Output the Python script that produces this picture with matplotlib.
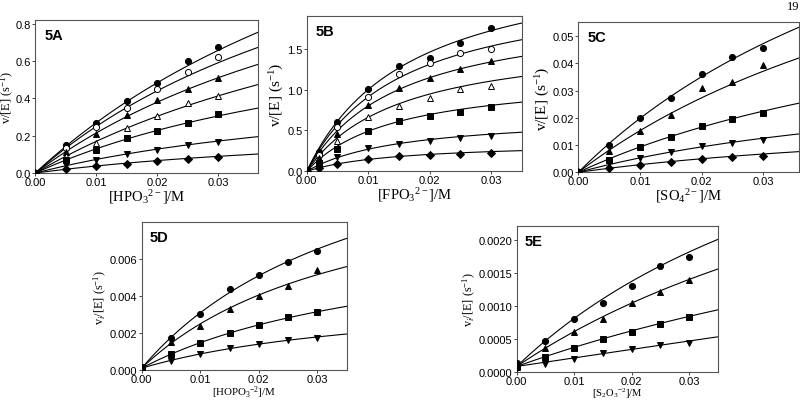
import numpy as np
import matplotlib
matplotlib.use("Agg")
import matplotlib.pyplot as plt
from matplotlib.ticker import FormatStrFormatter

plt.rcParams['font.family'] = 'Liberation Serif'
plt.rcParams['mathtext.fontset'] = 'custom'
plt.rcParams['mathtext.rm'] = 'Liberation Serif'
plt.rcParams['mathtext.it'] = 'Liberation Serif:italic'

# ---- data ----
# marker order: filled circle, open circle, filled up-tri, open up-tri,
# filled square, filled down-tri, filled diamond
conc_A = [0, 0.005, 0.01, 0.015, 0.02, 0.025, 0.03]
rates_A = [
    [0, 0.152, 0.268, 0.384, 0.480, 0.598, 0.673],
    [0, 0.135, 0.248, 0.348, 0.448, 0.541, 0.620],
    [0, 0.115, 0.211, 0.309, 0.389, 0.448, 0.509],
    [0, 0.090, 0.161, 0.243, 0.304, 0.373, 0.414],
    [0, 0.070, 0.125, 0.188, 0.223, 0.268, 0.314],
    [0, 0.042, 0.071, 0.100, 0.125, 0.150, 0.168],
    [0, 0.020, 0.036, 0.050, 0.063, 0.077, 0.088],
]
curve_A_010 = [0.270, 0.250, 0.215, 0.170, 0.130, 0.073, 0.038]
curve_A_end = [0.754, 0.673, 0.582, 0.474, 0.348, 0.195, 0.102]

conc_B = [0, 0.002, 0.005, 0.01, 0.015, 0.02, 0.025, 0.03]
rates_B = [
    [0, 0.233, 0.609, 1.001, 1.283, 1.389, 1.573, 1.757],
    [0, 0.195, 0.540, 0.907, 1.193, 1.324, 1.451, 1.500],
    [0, 0.160, 0.458, 0.813, 1.018, 1.144, 1.246, 1.349],
    [0, 0.130, 0.376, 0.670, 0.805, 0.899, 1.009, 1.042],
    [0, 0.100, 0.274, 0.490, 0.613, 0.674, 0.723, 0.785],
    [0, 0.070, 0.176, 0.282, 0.335, 0.376, 0.409, 0.437],
    [0, 0.040, 0.094, 0.151, 0.192, 0.204, 0.213, 0.225],
]
curve_B_010 = [1.000, 0.910, 0.800, 0.660, 0.490, 0.270, 0.145]
curve_B_end = [1.814, 1.610, 1.406, 1.160, 0.846, 0.478, 0.253]

# 5C: filled circle, up-tri, square, down-tri, diamond
conc_C = [0, 0.005, 0.01, 0.015, 0.02, 0.025, 0.03]
rates_C = [
    [0, 0.0100, 0.0200, 0.0273, 0.0361, 0.0423, 0.0456],
    [0, 0.0078, 0.0151, 0.0212, 0.0309, 0.0333, 0.0395],
    [0, 0.0047, 0.0092, 0.0129, 0.0169, 0.0194, 0.0217],
    [0, 0.0033, 0.0051, 0.0076, 0.0096, 0.0108, 0.0120],
    [0, 0.0014, 0.0027, 0.0037, 0.0048, 0.0056, 0.0061],
]
curve_C_010 = [0.0198, 0.0153, 0.0093, 0.0053, 0.0028]
curve_C_end = [0.0533, 0.0420, 0.0254, 0.0141, 0.0076]

# 5D and 5E: filled circle, up-tri, square, down-tri
conc_D = [0, 0.005, 0.01, 0.015, 0.02, 0.025, 0.03]
rates_D = [
    [0.00018, 0.00175, 0.00305, 0.00440, 0.00515, 0.00587, 0.00642],
    [0.00015, 0.00150, 0.00236, 0.00333, 0.00400, 0.00455, 0.00540],
    [0.00012, 0.00087, 0.00145, 0.00200, 0.00245, 0.00287, 0.00315],
    [0.00010, 0.00051, 0.00087, 0.00118, 0.00142, 0.00160, 0.00176],
]
curve_D_010 = [0.00310, 0.00250, 0.00148, 0.00087]
curve_D_end = [0.00713, 0.00560, 0.00345, 0.00195]

conc_E = [0, 0.005, 0.01, 0.015, 0.02, 0.025, 0.03]
rates_E = [
    [0.00013, 0.00046, 0.00080, 0.00104, 0.00131, 0.00161, 0.00175],
    [0.00010, 0.00036, 0.00060, 0.00080, 0.00104, 0.00121, 0.00139],
    [0.00007, 0.00022, 0.00036, 0.00049, 0.00061, 0.00073, 0.00083],
    [0.00005, 0.00012, 0.00020, 0.00028, 0.00034, 0.00040, 0.00044],
]
curve_E_010 = [0.00081, 0.00061, 0.00037, 0.00021]
curve_E_end = [0.00201, 0.00156, 0.00094, 0.00053]

markers7 = [('o', 'k'), ('o', 'w'), ('^', 'k'), ('^', 'w'),
            ('s', 'k'), ('v', 'k'), ('D', 'k')]
markers5 = [('o', 'k'), ('^', 'k'), ('s', 'k'), ('v', 'k'), ('D', 'k')]
markers4 = [('o', 'k'), ('^', 'k'), ('s', 'k'), ('v', 'k')]


def saturation_curve(s, y1, s_end, y_end, c, s1=0.01):
    # hyperbola through (0, c), (s1, y1) and (s_end, y_end)
    y1 = y1 - c
    y_end = y_end - c
    r = y_end / y1
    if r >= s_end / s1 - 1e-3:
        return c + y1 / s1 * s
    km = s1 * s_end * (1 - r) / (r * s1 - s_end)
    vmax = y_end * (km + s_end) / s_end
    return c + vmax * s / (km + s)


panels = [
    dict(label='5A', rect=[0.0441, 0.567, 0.2785, 0.381], x=conc_A, y=rates_A,
         c010=curve_A_010, cend=curve_A_end, c0=0.0, mk=markers7,
         xlim=0.0365, ylim=0.82, yticks=np.arange(0, 0.81, 0.2), yfmt='%.1f',
         xlabel=r'[HPO$_3$$^{2-}$]/M', ylabel=r'v/[E] (s$^{-1}$)',
         xls=10.5, yls=9),
    dict(label='5B', rect=[0.3834, 0.5714, 0.2688, 0.3863], x=conc_B, y=rates_B,
         c010=curve_B_010, cend=curve_B_end, c0=0.0, mk=markers7,
         xlim=0.035, ylim=1.9, yticks=np.arange(0, 1.51, 0.5), yfmt='%.1f',
         xlabel=r'[FPO$_3$$^{2-}$]/M', ylabel=r'v/[E] (s$^{-1}$)',
         xls=10.5, yls=11),
    dict(label='5C', rect=[0.7229, 0.5689, 0.2759, 0.3731], x=conc_C, y=rates_C,
         c010=curve_C_010, cend=curve_C_end, c0=0.0, mk=markers5,
         xlim=0.0358, ylim=0.0551, yticks=np.arange(0, 0.051, 0.01), yfmt='%.2f',
         xlabel=r'[SO$_4$$^{2-}$]/M', ylabel=r'v/[E] (s$^{-1}$)',
         xls=10.5, yls=11),
    dict(label='5D', rect=[0.1771, 0.0771, 0.2563, 0.3674], x=conc_D, y=rates_D,
         c010=curve_D_010, cend=curve_D_end, c0=0.0001, mk=markers4,
         xlim=0.035, ylim=0.008, yticks=np.arange(0, 0.0061, 0.002), yfmt='%.3f',
         xlabel=r'[HOPO$_3$$^{-2}$]/M', ylabel=r'v$_i$/[E] (s$^{-1}$)',
         xls=7.8, yls=8.8),
    dict(label='5E', rect=[0.6459, 0.0729, 0.2513, 0.3617], x=conc_E, y=rates_E,
         c010=curve_E_010, cend=curve_E_end, c0=0.00008, mk=markers4,
         xlim=0.035, ylim=0.00221, yticks=np.arange(0, 0.00201, 0.0005), yfmt='%.4f',
         xlabel=r'[S$_2$O$_3$$^{-2}$]/M', ylabel=r'v$_i$/[E] (s$^{-1}$)',
         xls=7.6, yls=8.8),
]

fig = plt.figure(figsize=(8.0, 4.02), dpi=100)

for p in panels:
    ax = fig.add_axes(p['rect'])
    s = np.linspace(0, p['xlim'], 200)
    for y1, yend in zip(p['c010'], p['cend']):
        ax.plot(s, saturation_curve(s, y1, p['xlim'], yend, p['c0']),
                color='k', lw=0.8, zorder=2)
    for yy, (m, fc) in zip(p['y'], p['mk']):
        ms = 3.6 if m == 'D' else 4.4
        ax.plot(p['x'], yy, ls='none', marker=m, ms=ms, mfc=fc, mec='k',
                mew=0.7, zorder=3)
    ax.set_xlim(0, p['xlim'])
    ax.set_ylim(0, p['ylim'])
    ax.set_xticks([0, 0.01, 0.02, 0.03])
    ax.set_yticks(p['yticks'])
    ax.xaxis.set_major_formatter(FormatStrFormatter('%.2f'))
    ax.yaxis.set_major_formatter(FormatStrFormatter(p['yfmt']))
    ax.tick_params(direction='out', length=2.2, width=0.7, labelsize=8,
                   pad=0.8, colors='#444444', labelcolor='k')
    for lab in ax.get_xticklabels() + ax.get_yticklabels():
        lab.set_fontfamily('Liberation Sans')
    for sp in ax.spines.values():
        sp.set_color('#555555')
        sp.set_linewidth(0.8)
    bottom_row = p['label'] in ('5D', '5E')
    ax.set_xlabel(p['xlabel'], fontsize=p['xls'],
                  labelpad=-0.5 if bottom_row else 0)
    ax.set_ylabel(p['ylabel'], fontsize=p['yls'], labelpad=0.5)
    if p['label'] == '5A':
        # keep the label inside the page edge
        ax.yaxis.set_label_coords(-0.088, 0.5)
    ax.text(0.04, 0.95, p['label'], transform=ax.transAxes, ha='left',
            va='top', fontsize=10.5, fontweight='bold',
            family='Liberation Sans')

fig.text(0.999, 0.997, '19', ha='right', va='top', fontsize=9,
         family='Liberation Serif')

fig.savefig('out.png', dpi=100)
